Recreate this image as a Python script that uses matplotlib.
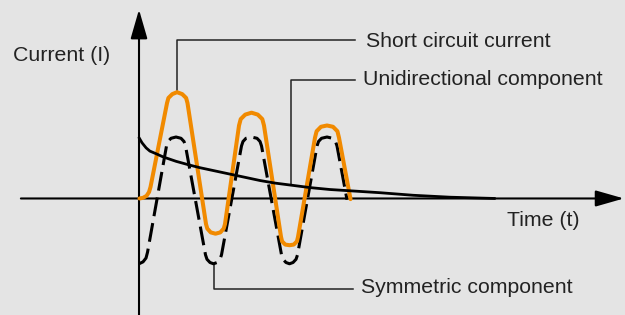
import matplotlib
matplotlib.use("Agg")
import matplotlib.pyplot as plt

plt.rcParams["font.family"] = ["Liberation Sans", "DejaVu Sans"]

# data: time in ms, current in p.u.
sym_t = [0.00, 1.07, 1.87, 2.27, 7.33, 7.73, 8.53, 9.87, 11.20, 12.00, 12.40,
         17.73, 18.13, 18.93, 19.87, 20.80, 21.60, 22.00,
         27.33, 27.73, 28.53, 30.00, 31.47, 32.27, 32.67,
         38.00, 38.40, 39.20, 40.13, 41.07, 41.87, 42.27,
         47.47, 47.87, 48.67, 50.13, 51.60, 52.40, 52.80, 55.47]
sym_i = [-1.02, -0.99, -0.93, -0.84, 0.82, 0.89, 0.94, 0.96, 0.94, 0.89, 0.82,
         -0.88, -0.95, -1.00, -1.02, -1.00, -0.95, -0.88,
         0.82, 0.89, 0.94, 0.96, 0.94, 0.89, 0.82,
         -0.88, -0.95, -1.00, -1.02, -1.00, -0.95, -0.88,
         0.82, 0.89, 0.94, 0.96, 0.94, 0.89, 0.82, -0.02]

sc_t = [0.13, 1.07, 2.00, 2.67, 3.07, 7.47, 7.84, 8.88, 10.13, 11.52, 12.56, 12.93,
        17.87, 18.21, 19.12, 20.40, 21.68, 22.59, 22.93,
        26.67, 27.12, 28.33, 30.00, 31.67, 32.88, 33.33,
        37.87, 38.16, 39.00, 40.13, 41.27, 42.11, 42.40,
        46.93, 47.36, 48.53, 50.13, 51.73, 52.91, 53.33, 56.40]
sc_i = [0.00, 0.01, 0.04, 0.10, 0.18, 1.49, 1.57, 1.63, 1.66, 1.63, 1.57, 1.49,
        -0.40, -0.47, -0.53, -0.55, -0.53, -0.47, -0.40,
        1.14, 1.24, 1.31, 1.34, 1.31, 1.24, 1.14,
        -0.60, -0.67, -0.72, -0.73, -0.72, -0.67, -0.60,
        0.95, 1.05, 1.12, 1.14, 1.12, 1.05, 0.95, -0.01]

dc_t = [0, 0.8, 1.9, 2.9, 4.5, 6.4, 9.9, 13.6, 16.3, 20.3, 24.3, 28.3,
        32.3, 36.3, 40.3, 45.6, 50.9, 56.3, 64.3, 73.1, 82.9, 94.9]
dc_i = [0.95, 0.87, 0.79, 0.74, 0.70, 0.65, 0.58, 0.52, 0.48, 0.43, 0.38, 0.33,
        0.28, 0.24, 0.21, 0.17, 0.14, 0.12, 0.09, 0.05, 0.02, 0.00]

labels = ["Short circuit current", "Unidirectional component", "Symmetric component"]

bg = "#e4e4e4"
orange = "#f18a00"
ink = "#222222"

fig = plt.figure(figsize=(6.25, 3.15), dpi=100, facecolor=bg)
ax = fig.add_axes([0, 0, 1, 1])
ax.set_facecolor(bg)
ax.set_xlim(-37.07, 129.6)
ax.set_ylim(-1.82, 3.10)
ax.axis("off")

# axes with arrow heads
arr = dict(mutation_scale=10, lw=1.5, color="black", shrinkA=0, shrinkB=0)
ax.annotate("", xy=(129.3, 0), xytext=(-31.5, 0),
            arrowprops=dict(arrowstyle="-|>,head_length=1.75,head_width=0.5", **arr))
ax.annotate("", xy=(0, 2.95), xytext=(0, -1.9),
            arrowprops=dict(arrowstyle="-|>,head_length=1.8,head_width=0.52", **arr))

# curves
ax.plot(sym_t, sym_i, color="black", lw=2.2, dashes=(6.2, 2.3),
        dash_capstyle="butt", solid_joinstyle="round", zorder=3)
ax.plot(sc_t, sc_i, color=orange, lw=2.9, solid_capstyle="round",
        solid_joinstyle="round", zorder=4)
ax.plot(dc_t, dc_i, color="black", lw=2.0, solid_capstyle="round",
        solid_joinstyle="round", zorder=5)

# leader lines
lead = dict(color=ink, lw=1.1, zorder=2)
ax.plot([10.2, 10.2, 57.6], [1.70, 2.47, 2.47], **lead)
ax.plot([40.45, 40.45, 57.6], [0.21, 1.85, 1.85], **lead)
ax.plot([20.0, 20.0, 57.0], [-1.04, -1.42, -1.42], **lead)

# texts
fs = 15.3
ax.text(-33.6, 2.148, "Current (I)", fontsize=fs, color=ink, ha="left", va="baseline")
ax.text(98.0, -0.43, "Time (t)", fontsize=fs, color=ink, ha="left", va="baseline")
ax.text(60.5, 2.37, labels[0], fontsize=fs, color=ink, ha="left", va="baseline")
ax.text(59.8, 1.773, labels[1], fontsize=fs, color=ink, ha="left", va="baseline")
ax.text(59.2, -1.477, labels[2], fontsize=fs, color=ink, ha="left", va="baseline")

plt.savefig("out.png", dpi=100, facecolor=bg)
